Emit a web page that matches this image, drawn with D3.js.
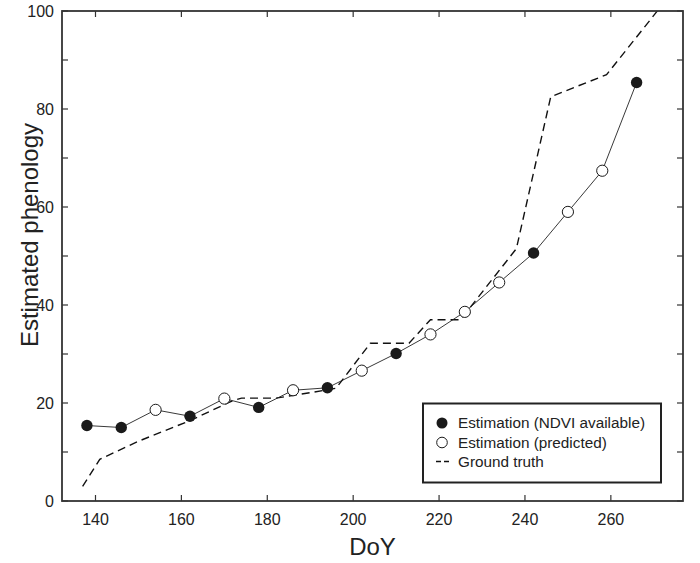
<!DOCTYPE html>
<html>
<head>
<meta charset="utf-8">
<script src="https://cdn.jsdelivr.net/npm/d3@7"></script>
<style>
  body { margin: 0; background: #fff; }
  svg { display: block; }
  text { font-family: "Liberation Sans", Arial, sans-serif; fill: #222; }
</style>
</head>
<body>
<svg id="chart" width="700" height="563"></svg>
<script>
// ---- data ----
const doy = [138, 146, 154, 162, 170, 178, 186, 194, 202, 210, 218, 226, 234, 242, 250, 258, 266];
const estimation = [15.4, 15.0, 18.6, 17.3, 20.9, 19.1, 22.6, 23.1, 26.6, 30.1, 34.0, 38.6, 44.6, 50.6, 59.0, 67.4, 85.4];
const ndviAvailable = [true, true, false, true, false, true, false, true, false, true, false, false, false, true, false, false, true];
const truthDoy = [137, 141, 150, 162, 172, 174, 182, 190, 196, 204, 213, 218, 225, 238, 246, 259, 272];
const truthVal = [3, 8.5, 12.2, 16.4, 20.5, 21, 21, 22.1, 23, 32.2, 32.2, 37, 37, 51.5, 82.5, 87, 101.3];
const xTicks = [140, 160, 180, 200, 220, 240, 260];
const yTicks = [0, 10, 20, 30, 40, 50, 60, 70, 80, 90, 100];
const yLabels = [0, 20, 40, 60, 80, 100];
const legendLabels = ["Estimation (NDVI available)", "Estimation (predicted)", "Ground truth"];

// ---- layout ----
const L = 62, R = 683, T = 11, B = 501;
const svg = d3.select("#chart");
const x = d3.scaleLinear().domain([132.2, 276.8]).range([L, R]);
const y = d3.scaleLinear().domain([0, 100]).range([B, T]);

svg.append("defs").append("clipPath").attr("id", "plotclip")
  .append("rect").attr("x", L).attr("y", T).attr("width", R - L).attr("height", B - T);

// ground truth (dashed)
const truth = truthDoy.map((d, i) => [d, truthVal[i]]);
svg.append("path")
  .datum(truth)
  .attr("clip-path", "url(#plotclip)")
  .attr("fill", "none")
  .attr("stroke", "#111")
  .attr("stroke-width", 1.4)
  .attr("stroke-dasharray", "8,5")
  .attr("d", d3.line().x(d => x(d[0])).y(d => y(d[1])));

// estimation line
const est = doy.map((d, i) => ({ d, v: estimation[i], f: ndviAvailable[i] }));
svg.append("path")
  .datum(est)
  .attr("fill", "none")
  .attr("stroke", "#222")
  .attr("stroke-width", 0.9)
  .attr("d", d3.line().x(p => x(p.d)).y(p => y(p.v)));

svg.selectAll("circle.pt").data(est).enter().append("circle")
  .attr("class", "pt")
  .attr("cx", p => x(p.d)).attr("cy", p => y(p.v))
  .attr("r", p => p.f ? 5.7 : 5.6)
  .attr("fill", p => p.f ? "#1a1a1a" : "#fff")
  .attr("stroke", "#1a1a1a")
  .attr("stroke-width", p => p.f ? 0 : 1);

// axes (box with inward ticks)
const axisColor = "#333";
const tickLen = 6;
const g = svg.append("g").attr("stroke", axisColor).attr("stroke-width", 1.2);
xTicks.forEach(t => {
  g.append("line").attr("x1", x(t)).attr("x2", x(t)).attr("y1", B).attr("y2", B - tickLen);
  g.append("line").attr("x1", x(t)).attr("x2", x(t)).attr("y1", T).attr("y2", T + tickLen);
});
yTicks.forEach(t => {
  g.append("line").attr("x1", L).attr("x2", L + tickLen).attr("y1", y(t)).attr("y2", y(t));
  g.append("line").attr("x1", R).attr("x2", R - tickLen).attr("y1", y(t)).attr("y2", y(t));
});
svg.append("rect").attr("x", L).attr("y", T).attr("width", R - L).attr("height", B - T)
  .attr("fill", "none").attr("stroke", axisColor).attr("stroke-width", 1.8);

// tick labels
svg.selectAll("text.xt").data(xTicks).enter().append("text")
  .attr("class", "xt")
  .attr("x", d => x(d)).attr("y", B + 24)
  .attr("text-anchor", "middle").attr("font-size", 16)
  .text(d => d);
svg.selectAll("text.yt").data(yLabels).enter().append("text")
  .attr("class", "yt")
  .attr("x", L - 8).attr("y", d => y(d)).attr("dy", "0.35em")
  .attr("text-anchor", "end").attr("font-size", 16)
  .text(d => d);

// axis titles
svg.append("text").attr("x", (L + R) / 2).attr("y", 555)
  .attr("text-anchor", "middle").attr("font-size", 24).text("DoY");
svg.append("text").attr("transform", `translate(38,235) rotate(-90)`)
  .attr("text-anchor", "middle").attr("font-size", 24).text("Estimated phenology");

// legend
const lg = svg.append("g");
lg.append("rect").attr("x", 423).attr("y", 403.5).attr("width", 238).attr("height", 79)
  .attr("fill", "#fff").attr("stroke", "#222").attr("stroke-width", 2);
const rowY = [423, 442.5, 461.5];
lg.append("circle").attr("cx", 442).attr("cy", rowY[0]).attr("r", 5.5).attr("fill", "#1a1a1a");
lg.append("circle").attr("cx", 442).attr("cy", rowY[1]).attr("r", 5.3).attr("fill", "#fff")
  .attr("stroke", "#1a1a1a").attr("stroke-width", 1);
lg.append("line").attr("x1", 436).attr("x2", 450).attr("y1", rowY[2]).attr("y2", rowY[2])
  .attr("stroke", "#111").attr("stroke-width", 1.4).attr("stroke-dasharray", "5,3");
legendLabels.forEach((t, i) => {
  lg.append("text").attr("x", 458).attr("y", rowY[i]).attr("dy", "0.35em")
    .attr("font-size", 15.3).text(t);
});
</script>
</body>
</html>
